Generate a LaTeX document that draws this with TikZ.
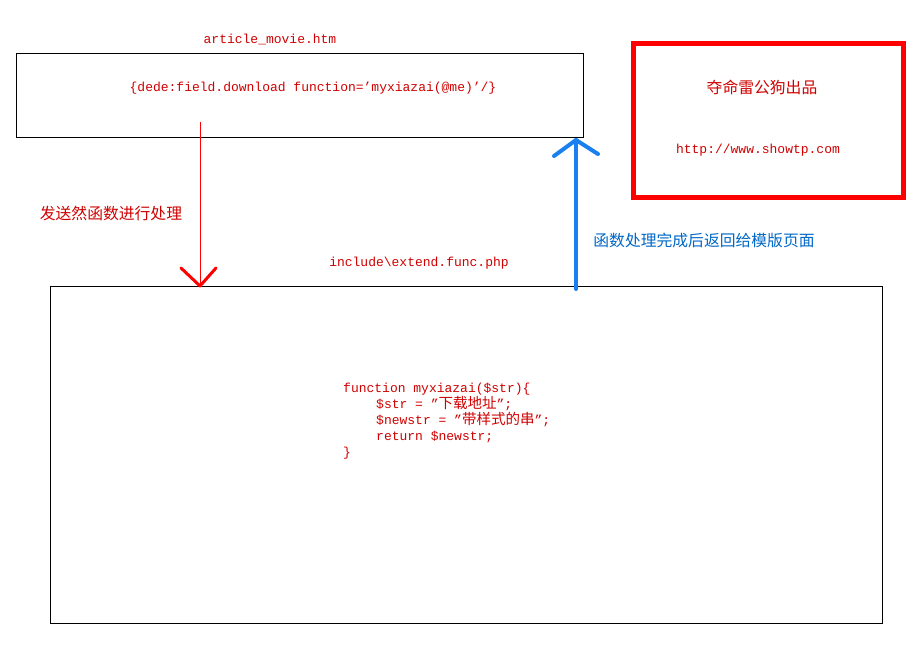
\documentclass[tikz,border=0pt]{standalone}
\usepackage{fontspec}
\setmainfont{Liberation Mono}
\newfontfamily\cjk{Noto Sans CJK SC}
\usetikzlibrary{calc}
\definecolor{txtred}{HTML}{D00000}
\definecolor{pure}{HTML}{FF0000}
\definecolor{arrblue}{HTML}{1A80F0}
\definecolor{txtblue}{HTML}{0068C8}
\newcommand{\cj}[1]{{\cjk\fontsize{14.5}{16}\selectfont #1}}
\tikzset{
  box/.style={draw=black, line width=0.9pt, anchor=north west, inner sep=0pt, outer sep=0pt},
  lbl/.style={text=txtred, font=\fontsize{13}{16}\selectfont, inner sep=0pt},
  codeline/.style={lbl, anchor=base west},
  cjlbl/.style={inner sep=0pt, font=\cjk\fontsize{15.8}{17}\selectfont},
  redhead/.style={draw=pure, line width=3pt, line cap=round, line join=round},
  bluearrow/.style={draw=arrblue, line width=4pt, line cap=round, line join=round}
}
\begin{document}
\begin{tikzpicture}[x=1pt,y=-1pt]
\useasboundingbox[fill=white] (0,0) rectangle (924,652);
% boxes
\node[box, minimum width=567pt, minimum height=84pt] (tpl) at (16,53) {};
\node[box, minimum width=832pt, minimum height=337pt] (func) at (50,286) {};
\node[draw=pure, line width=5pt, anchor=north west, inner sep=0pt, outer sep=0pt,
      minimum width=270pt, minimum height=154pt] (brand) at (633.5,43.5) {};
% texts
\node[lbl] (tplname) at (270,39) {article\_movie.htm};
\node[lbl] (tag) at (313,88) {\{dede:field.download function='myxiazai(@me)'/\}};
\node[cjlbl, text=txtred] (author) at (762,87) {夺命雷公狗出品};
\node[lbl] (url) at (758,150) {http://www.showtp.com};
\node[cjlbl, text=txtred] (send) at (111,213) {发送然函数进行处理};
\node[lbl] (funcname) at (419,263) {include\textbackslash extend.func.php};
\node[cjlbl, text=txtblue] (back) at (704,240) {函数处理完成后返回给模版页面};
% code
\node[codeline] (code1) at (343,392) {function myxiazai(\$str)\{};
\node[codeline] (code2) at (376,408) {\$str = "\cj{下载地址}";};
\node[codeline] (code3) at (376,424) {\$newstr = "\cj{带样式的串}";};
\node[codeline] (code4) at (376,440) {return \$newstr;};
\node[codeline] (code5) at (343,456) {\}};
% red arrow: template -> function
\coordinate (s1) at (200,122);
\coordinate (e1) at (s1 |- func.north);
\draw[pure, line width=1pt] (s1) -- (e1);
\draw[redhead] ($(e1)+(-19,-18)$) -- (e1) -- ($(e1)+(16,-18)$);
% blue arrow: function -> template
\coordinate (s2) at ($(func.north west)+(526,3)$);
\coordinate (e2) at ($(tpl.south east)+(-7,3)$);
\draw[bluearrow] (s2) -- (s2 |- e2);
\draw[bluearrow] ($(s2 |- e2)+(-22,16)$) -- (s2 |- e2) -- ($(s2 |- e2)+(22,14)$);
\end{tikzpicture}
\end{document}
